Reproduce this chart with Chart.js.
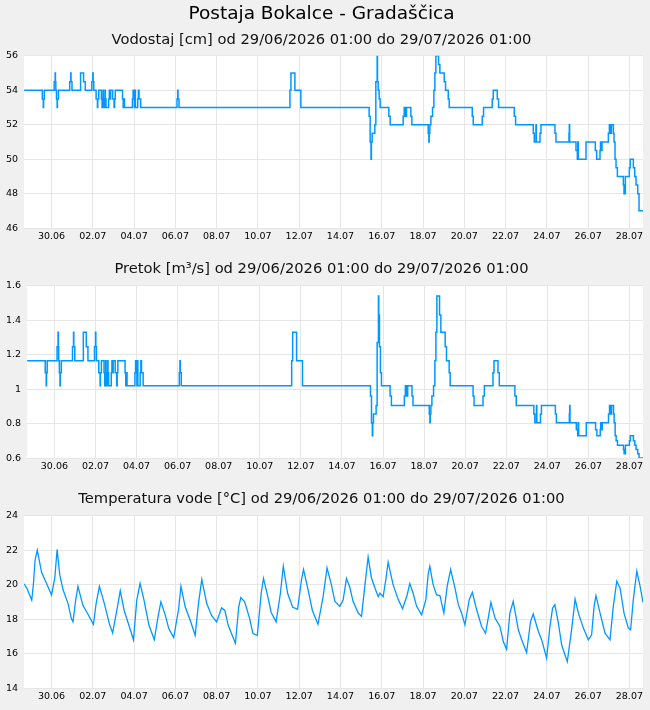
<!DOCTYPE html>
<html>
<head>
<meta charset="utf-8">
<script src="https://cdn.jsdelivr.net/npm/chart.js@4.4.0/dist/chart.umd.min.js"></script>
<style>
  html, body { margin: 0; padding: 0; background: #f0f0f0; }
  canvas { display: block; }
</style>
</head>
<body>
<canvas id="level" width="650" height="250"></canvas>
<canvas id="flow" width="650" height="230"></canvas>
<canvas id="temp" width="650" height="230"></canvas>
<script>
// x values are days counted from 29.06 00:00
const xMin = -0.33;
const xMax = 29.66;
const xTickDays = [1, 3, 5, 7, 9, 11, 13, 15, 17, 19, 21, 23, 25, 27, 29];
const xTickLabels = ['30.06', '02.07', '04.07', '06.07', '08.07', '10.07', '12.07', '14.07',
  '16.07', '18.07', '20.07', '22.07', '24.07', '26.07', '28.07'];

// water level [cm] and discharge [m3/s], each value holds until the next time
const levelTimes = [
  -0.33, 0.552, 0.6, 0.616, 0.648, 1.128, 1.176, 1.19, 1.208, 1.24,
  1.272, 1.285, 1.336, 1.88, 1.93, 1.944, 1.992, 2.408, 2.552, 2.632,
  2.952, 3.0, 3.016, 3.048, 3.16, 3.224, 3.24, 3.288, 3.416, 3.448,
  3.496, 3.512, 3.56, 3.592, 3.608, 3.64, 3.768, 3.8, 3.832, 3.86,
  3.96, 4.03, 4.056, 4.088, 4.44, 4.472, 4.49, 4.536, 4.92, 4.952,
  4.984, 5.016, 5.048, 5.064, 5.176, 5.208, 5.24, 5.32, 7.08, 7.112,
  7.128, 7.176, 12.552, 12.6, 12.792, 13.08, 16.39, 16.439, 16.48, 16.5,
  16.536, 16.665, 16.714, 16.778, 16.794, 16.827, 16.875, 16.924, 17.344, 17.409,
  18.039, 18.088, 18.136, 18.201, 18.411, 18.46, 19.252, 19.284, 19.3, 19.332,
  19.381, 19.462, 19.526, 19.575, 19.623, 19.753, 19.817, 20.028, 20.092, 20.222,
  20.27, 21.385, 21.434, 21.87, 21.935, 22.355, 22.404, 22.598, 22.662, 23.422,
  23.487, 24.344, 24.392, 24.473, 24.49, 24.667, 24.715, 25.394, 25.443, 26.073,
  26.09, 26.106, 26.413, 26.478, 26.5, 26.526, 26.898, 27.35, 27.415, 27.577,
  27.6, 27.625, 27.674, 27.981, 28.03, 28.094, 28.127, 28.224, 28.256, 28.304,
  28.353, 28.418, 28.709, 28.74, 28.806, 28.999, 29.04, 29.193, 29.258, 29.322,
  29.404, 29.468, 29.66
];
const levelValues = [
  54, 53.5, 53, 53.5, 54, 54.5, 55, 54.5, 54, 53.5,
  53, 53.5, 54, 54.5, 55, 54.5, 54, 55, 54.5, 54,
  54.5, 55, 54.5, 54, 53.5, 53, 53.5, 54, 53.5, 53,
  54, 53.5, 53, 54, 53.5, 53, 53.5, 54, 53.5, 54,
  53.5, 53, 53.5, 54, 53.5, 53, 53.5, 53, 53.5, 54,
  53.5, 53, 54, 53, 53.5, 54, 53.5, 53, 53.5, 54,
  53.5, 53, 54, 55, 54, 53, 52.5, 51, 50, 51,
  51.5, 52, 54.5, 56, 54.5, 54, 53.5, 53, 52.5, 52,
  52.5, 53, 52.5, 53, 52.5, 52, 51.5, 51, 51.5, 52,
  52.5, 53, 54, 55, 56, 55.5, 55, 54.5, 54, 53.5,
  53, 52.5, 52, 52.5, 53, 53.5, 54, 53.5, 53, 52.5,
  52, 51.5, 51, 52, 51, 51.5, 52, 51.5, 51, 51.5,
  52, 51, 50.5, 50, 51, 50, 51, 50.5, 50, 50.5,
  51, 50.5, 51, 51.5, 52, 51.5, 52, 51.5, 51, 50,
  49.5, 49, 48.5, 48, 49, 49.5, 50, 49.5, 49, 48.5,
  48, 47, 47
];
const flowValues = [
  1.165, 1.095, 1.02, 1.095, 1.165, 1.245, 1.33, 1.245, 1.165, 1.095,
  1.02, 1.095, 1.165, 1.245, 1.33, 1.245, 1.165, 1.33, 1.245, 1.165,
  1.245, 1.33, 1.245, 1.165, 1.095, 1.02, 1.095, 1.165, 1.095, 1.02,
  1.165, 1.095, 1.02, 1.165, 1.095, 1.02, 1.095, 1.165, 1.095, 1.165,
  1.095, 1.02, 1.095, 1.165, 1.095, 1.02, 1.095, 1.02, 1.095, 1.165,
  1.095, 1.02, 1.165, 1.02, 1.095, 1.165, 1.095, 1.02, 1.095, 1.165,
  1.095, 1.02, 1.165, 1.33, 1.165, 1.02, 0.96, 0.805, 0.73, 0.805,
  0.855, 0.905, 1.27, 1.54, 1.43, 1.245, 1.095, 1.02, 0.96, 0.905,
  0.96, 1.02, 0.96, 1.02, 0.96, 0.905, 0.855, 0.805, 0.855, 0.905,
  0.96, 1.02, 1.165, 1.33, 1.54, 1.43, 1.33, 1.245, 1.165, 1.095,
  1.02, 0.96, 0.905, 0.96, 1.02, 1.095, 1.165, 1.095, 1.02, 0.96,
  0.905, 0.855, 0.805, 0.905, 0.805, 0.855, 0.905, 0.855, 0.805, 0.855,
  0.905, 0.805, 0.765, 0.73, 0.805, 0.73, 0.805, 0.765, 0.73, 0.765,
  0.805, 0.765, 0.805, 0.855, 0.905, 0.855, 0.905, 0.855, 0.805, 0.73,
  0.70, 0.675, 0.65, 0.625, 0.675, 0.70, 0.73, 0.70, 0.675, 0.65,
  0.625, 0.60, 0.60
];

// water temperature [°C]
const tempTimes = [
  -0.33, -0.2, 0.04, 0.12, 0.2, 0.31, 0.52, 0.76, 1.0, 1.16, 1.27, 1.4, 1.56, 1.8, 1.96,
  2.04, 2.17, 2.28, 2.52, 2.76, 3.03, 3.16, 3.32, 3.56, 3.8, 3.96, 4.2, 4.33, 4.52, 4.76, 4.97,
  5.13, 5.29, 5.48, 5.72, 5.98, 6.17, 6.3, 6.52, 6.68, 6.92, 7.16, 7.27, 7.48, 7.72, 7.96,
  8.12, 8.28, 8.52, 8.76, 9.0, 9.24, 9.4, 9.56, 9.72, 9.91, 10.07, 10.17, 10.36, 10.6, 10.76, 10.97,
  11.16, 11.27, 11.48, 11.64, 11.88, 12.09, 12.23, 12.44, 12.68, 12.92, 13.11, 13.21, 13.4, 13.64, 13.91,
  14.16, 14.35, 14.56, 14.73, 14.97, 15.13, 15.29, 15.45, 15.61, 15.86,
  16.02, 16.18, 16.34, 16.5, 16.67, 16.83, 16.91, 17.07, 17.2, 17.31, 17.55, 17.8,
  18.01, 18.23, 18.36, 18.52, 18.69, 18.93, 19.14, 19.25, 19.33, 19.49, 19.66, 19.82,
  20.01, 20.17, 20.34, 20.55, 20.71, 20.87, 21.03, 21.24, 21.39, 21.6, 21.84,
  22.03, 22.16, 22.29, 22.49, 22.73, 22.89, 23.05, 23.21, 23.37, 23.62, 23.78,
  24.02, 24.21, 24.34, 24.59, 24.75, 24.99, 25.15, 25.28, 25.39, 25.56, 25.72, 25.99,
  26.2, 26.37, 26.53, 26.77, 27.01, 27.17, 27.29, 27.38, 27.58, 27.82,
  28.06, 28.22, 28.39, 28.55, 28.74, 28.95, 29.06, 29.19, 29.36, 29.52, 29.66
];
const tempValues = [
  20.05, 19.8, 19.1, 20.0, 21.4, 22.0, 20.7, 20.07, 19.4, 20.4, 22.04, 20.55, 19.7, 18.9, 18.03,
  17.84, 19.1, 19.9, 18.8, 18.3, 17.7, 18.9, 19.9, 18.9, 17.74, 17.2, 18.75, 19.64, 18.5, 17.6, 16.8,
  19.1, 20.07, 19.1, 17.64, 16.8, 18.2, 19.0, 18.2, 17.45, 16.93, 18.6, 19.9, 18.7, 17.93, 17.06,
  18.9, 20.3, 18.9, 18.2, 17.84, 18.65, 18.5, 17.64, 17.16, 16.6, 18.7, 19.25, 19.0, 18.03, 17.16, 17.06,
  19.5, 20.36, 19.3, 18.4, 17.84, 19.5, 21.07, 19.5, 18.7, 18.57, 20.26, 20.88, 19.87, 18.5, 17.7,
  19.3, 20.97, 20.0, 19.03, 18.74, 19.1, 20.35, 19.86, 19.03, 18.35,
  18.16, 19.9, 21.6, 20.4, 19.8, 19.3, 19.5, 19.3, 20.3, 21.3, 20.0, 19.13,
  18.6, 19.4, 20.06, 19.5, 18.74, 18.25, 19.13, 20.6, 21.07, 20.0, 19.4, 19.36,
  18.35, 19.9, 20.87, 19.8, 18.84, 18.35, 17.67, 19.13, 19.55, 18.54, 17.57,
  17.18, 18.06, 18.97, 18.06, 17.57, 16.7, 16.25, 18.35, 19.03, 17.38, 16.8,
  16.06, 17.86, 18.3, 17.28, 16.8, 15.73, 17.57, 18.64, 18.84, 17.77, 16.5, 15.53,
  17.38, 19.16, 18.35, 17.48, 16.8, 17.09, 18.74, 19.36, 18.35, 17.18,
  16.8, 18.74, 20.2, 19.8, 18.35, 17.48, 17.38, 19.13, 20.78, 19.9, 18.97
];

const lineColor = 'rgb(0, 152, 255)';
const gridColor = '#e6e6e6';

Chart.defaults.font.family = '"DejaVu Sans", sans-serif';
Chart.defaults.color = '#000';

// white background behind the plot area only
const plotBg = {
  id: 'plotBg',
  beforeDraw(chart) {
    const { ctx, chartArea: a } = chart;
    ctx.save();
    ctx.fillStyle = '#fff';
    ctx.fillRect(a.left, a.top, a.right - a.left, a.bottom - a.top);
    ctx.restore();
  }
};

function toPoints(xs, ys) {
  return xs.map((x, i) => ({ x: x, y: ys[i] }));
}

function makeChart(id, points, cfg) {
  return new Chart(document.getElementById(id), {
    type: 'line',
    data: {
      datasets: [{
        data: points,
        borderColor: lineColor,
        borderWidth: cfg.lineWidth,
        pointRadius: 0,
        fill: false,
        tension: 0,
        stepped: cfg.stepped
      }]
    },
    options: {
      responsive: false,
      animation: false,
      layout: { padding: { left: 0, right: 7, top: 0, bottom: 4.5 } },
      plugins: {
        legend: { display: false },
        tooltip: { enabled: false },
        title: cfg.title,
        subtitle: cfg.subtitle || { display: false }
      },
      scales: {
        x: {
          type: 'linear',
          min: xMin,
          max: xMax,
          grid: { color: gridColor, drawTicks: false },
          border: { display: false },
          afterBuildTicks: axis => {
            axis.ticks = xTickDays.map(v => ({ value: v }));
          },
          ticks: {
            padding: 3,
            autoSkip: false,
            maxRotation: 0,
            font: { size: 9.5 },
            callback: (v, i) => xTickLabels[i]
          }
        },
        y: {
          min: cfg.yMin,
          max: cfg.yMax,
          grid: { color: gridColor, drawTicks: false },
          border: { display: false },
          ticks: {
            stepSize: cfg.yStep,
            padding: 6,
            font: { size: 9.5 },
            callback: v => String(Number(v.toFixed(2)))
          }
        }
      }
    },
    plugins: [plotBg]
  });
}

const subFont = { size: 14.7, weight: 'normal' };

makeChart('level', toPoints(levelTimes, levelValues), {
  lineWidth: 1.5, stepped: true, yMin: 46, yMax: 56, yStep: 2,
  title: {
    display: true, text: 'Postaja Bokalce - Gradaščica', color: '#000',
    font: { size: 18.5, weight: 'normal' }, padding: { top: 3, bottom: 0 }
  },
  subtitle: {
    display: true, text: 'Vodostaj [cm] od 29/06/2026 01:00 do 29/07/2026 01:00', color: '#111',
    font: subFont, padding: { top: 6, bottom: 7 }
  }
});

makeChart('flow', toPoints(levelTimes, flowValues), {
  lineWidth: 1.5, stepped: true, yMin: 0.6, yMax: 1.6, yStep: 0.2,
  title: {
    display: true, text: 'Pretok [m³/s] od 29/06/2026 01:00 do 29/07/2026 01:00', color: '#111',
    font: subFont, padding: { top: 10, bottom: 8 }
  }
});

makeChart('temp', toPoints(tempTimes, tempValues), {
  lineWidth: 1.3, stepped: false, yMin: 14, yMax: 24, yStep: 2,
  title: {
    display: true, text: 'Temperatura vode [°C] od 29/06/2026 01:00 do 29/07/2026 01:00', color: '#111',
    font: subFont, padding: { top: 10, bottom: 8 }
  }
});
</script>
</body>
</html>
